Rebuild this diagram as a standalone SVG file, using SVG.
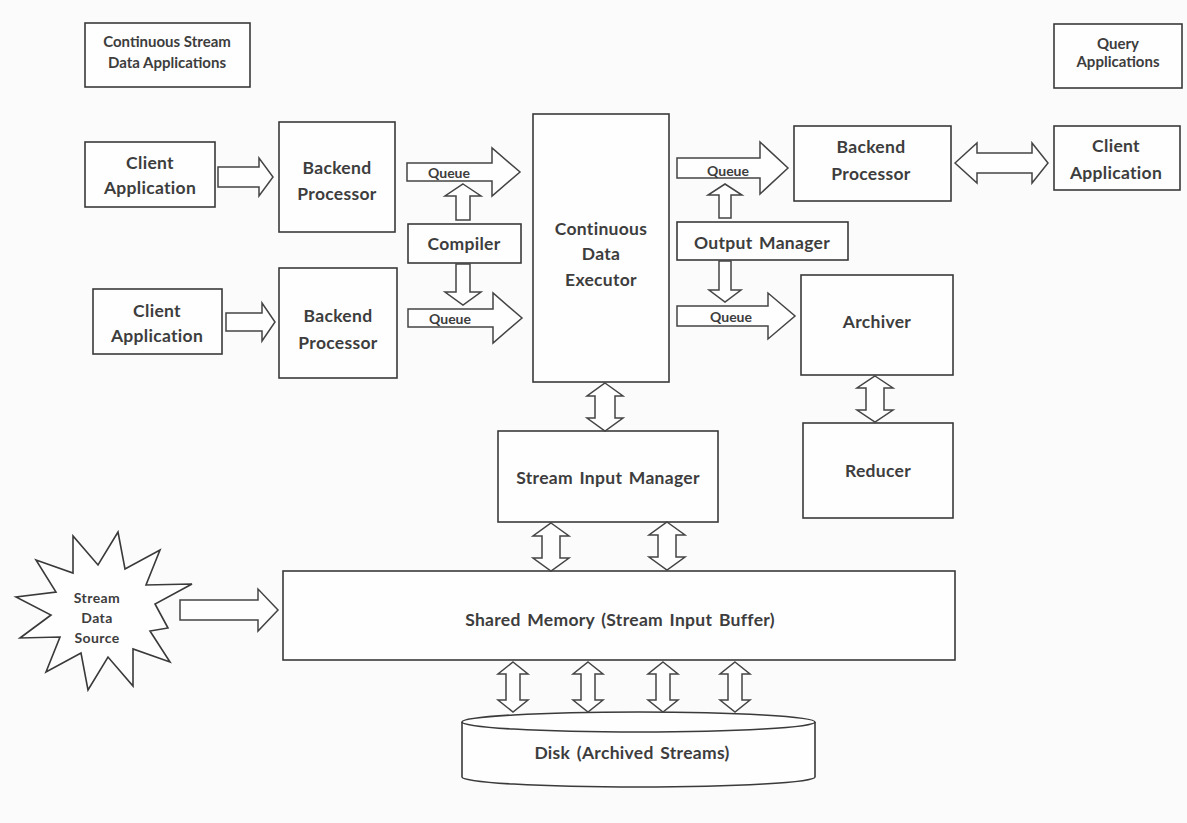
<svg xmlns="http://www.w3.org/2000/svg" width="1187" height="823" viewBox="0 0 1187 823">
  <style>
    .box { fill: #fefefe; stroke: #3a3a3a; stroke-width: 1.6; }
    .arr { fill: #fefefe; stroke: #444; stroke-width: 1.5; stroke-linejoin: miter; }
    text { font-family: Lato, "Liberation Sans", sans-serif; font-weight: 700; fill: #3d3d3d; text-anchor: middle; dominant-baseline: central; }
    .lg { font-size: 17.5px; letter-spacing: 0.3px; word-spacing: 2px; }
    .md { font-size: 15px; }
    .sm { font-size: 14px; letter-spacing: 0.4px; }
    .q { font-size: 14px; }
  </style>
  <rect width="1187" height="823" fill="#fbfbfb"/>

  <!-- headings -->
  <g id="hdr-stream-apps">
    <rect class="box" x="85" y="23" width="165" height="64"/>
    <text class="md" x="167" y="41">Continuous Stream</text>
    <text class="md" x="167" y="62">Data Applications</text>
  </g>
  <g id="hdr-query-apps">
    <rect class="box" x="1054" y="24" width="128" height="64"/>
    <text class="md" x="1118" y="43">Query</text>
    <text class="md" x="1118" y="61">Applications</text>
  </g>

  <!-- left side: clients and backends -->
  <g id="client-a">
    <rect class="box" x="85" y="142" width="130" height="65"/>
    <text class="lg" x="150" y="162">Client</text>
    <text class="lg" x="150" y="187">Application</text>
  </g>
  <g id="backend-a">
    <rect class="box" x="279" y="122" width="116" height="110"/>
    <text class="lg" x="337" y="167">Backend</text>
    <text class="lg" x="337" y="193">Processor</text>
  </g>
  <g id="client-b">
    <rect class="box" x="93" y="289" width="129" height="65"/>
    <text class="lg" x="157" y="310">Client</text>
    <text class="lg" x="157" y="335">Application</text>
  </g>
  <g id="backend-b">
    <rect class="box" x="279" y="268" width="118" height="110"/>
    <text class="lg" x="338" y="315">Backend</text>
    <text class="lg" x="338" y="342">Processor</text>
  </g>
  <g id="compiler">
    <rect class="box" x="408" y="224" width="113" height="39"/>
    <text class="lg" x="464" y="243">Compiler</text>
  </g>

  <!-- core -->
  <g id="executor">
    <rect class="box" x="533" y="114" width="136" height="268"/>
    <text class="lg" x="601" y="228">Continuous</text>
    <text class="lg" x="601" y="253">Data</text>
    <text class="lg" x="601" y="279">Executor</text>
  </g>
  <g id="output-manager">
    <rect class="box" x="677" y="222" width="171" height="38"/>
    <text class="lg" x="762" y="242">Output Manager</text>
  </g>

  <!-- right side -->
  <g id="backend-c">
    <rect class="box" x="794" y="126" width="157" height="75"/>
    <text class="lg" x="871" y="146">Backend</text>
    <text class="lg" x="871" y="173">Processor</text>
  </g>
  <g id="client-c">
    <rect class="box" x="1054" y="126" width="126" height="64"/>
    <text class="lg" x="1116" y="145">Client</text>
    <text class="lg" x="1116" y="172">Application</text>
  </g>
  <g id="archiver">
    <rect class="box" x="801" y="275" width="152" height="100"/>
    <text class="lg" x="877" y="321">Archiver</text>
  </g>
  <g id="reducer">
    <rect class="box" x="803" y="423" width="150" height="95"/>
    <text class="lg" x="878" y="470">Reducer</text>
  </g>

  <!-- input path -->
  <g id="stream-input-manager">
    <rect class="box" x="498" y="431" width="220" height="91"/>
    <text class="lg" x="608" y="477">Stream Input Manager</text>
  </g>
  <g id="shared-memory">
    <rect class="box" x="283" y="571" width="672" height="89"/>
    <text class="lg" x="620" y="619">Shared Memory (Stream Input Buffer)</text>
  </g>
  <g id="disk">
    <path class="box" d="M462,722 L462,777 A176.5,10 0 0 0 815,777 L815,722"/>
    <ellipse class="box" cx="638.5" cy="722" rx="176.5" ry="10"/>
    <text class="lg" x="632" y="752">Disk (Archived Streams)</text>
  </g>
  <g id="stream-source">
    <polygon class="box" points="118,532 125,569 160,550 146,585 192,584 155,604 168,628 150,631 170,662 133,649 133,686 108,657 88,690 81,653 46,672 60,637 20,638 51,615 16,597 56,592 36,560 73,573 73,536 98,565"/>
    <text class="sm" x="97" y="597">Stream</text>
    <text class="sm" x="97" y="617">Data</text>
    <text class="sm" x="97" y="637">Source</text>
  </g>

  <!-- block-arrow connectors -->
  <g id="connectors">
    <!-- clients to backends -->
    <polygon class="arr" points="218,167 259,167 259,158 273,177 259,196 259,187 218,187"/>
    <polygon class="arr" points="226,313 262,313 262,303 275,322 262,341 262,331 226,331"/>
    <!-- input queues into executor -->
    <polygon class="arr" points="407,163 492,163 492,148 520,172 492,196 492,181 407,181"/>
    <polygon class="arr" points="408,309 493,309 493,293 522,318 493,343 493,327 408,327"/>
    <!-- compiler feeds both queues -->
    <polygon class="arr" points="463,184 481,196 470,196 470,220 456,220 456,196 445,196"/>
    <polygon class="arr" points="456,264 470,264 470,292 481,292 463,305 445,292 456,292"/>
    <!-- output queues -->
    <polygon class="arr" points="677,158 760,158 760,142 788,168 760,194 760,178 677,178"/>
    <polygon class="arr" points="677,306 768,306 768,293 795,316 768,339 768,326 677,326"/>
    <!-- output manager feeds both queues -->
    <polygon class="arr" points="725,184 742,195 731,195 731,218 719,218 719,195 708,195"/>
    <polygon class="arr" points="719,261 731,261 731,290 741,290 725,302 709,290 719,290"/>
    <!-- backend to query client -->
    <polygon class="arr" points="955,163 977,143 977,153 1032,153 1032,143 1048,163 1032,183 1032,173 977,173 977,183"/>
    <!-- executor to stream input manager -->
    <polygon class="arr" points="605,383 623,396 615,396 615,418 623,418 605,431 587,418 595,418 595,396 587,396"/>
    <!-- archiver to reducer -->
    <polygon class="arr" points="875,376 893,388 884,388 884,410 893,410 875,422 857,410 866,410 866,388 857,388"/>
    <!-- stream input manager to shared memory -->
    <polygon class="arr" points="551,523 569,536 560,536 560,558 569,558 551,571 533,558 542,558 542,536 533,536"/>
    <polygon class="arr" points="667,522 685,535 676,535 676,557 685,557 667,570 649,557 658,557 658,535 649,535"/>
    <!-- shared memory to disk -->
    <polygon class="arr" points="513,662 528,674 520,674 520,700 528,700 513,712 498,700 506,700 506,674 498,674"/>
    <polygon class="arr" points="588,662 603,674 595,674 595,700 603,700 588,712 573,700 581,700 581,674 573,674"/>
    <polygon class="arr" points="663,662 678,674 670,674 670,700 678,700 663,712 648,700 656,700 656,674 648,674"/>
    <polygon class="arr" points="735,662 750,674 742,674 742,700 750,700 735,712 720,700 728,700 728,674 720,674"/>
    <!-- stream source into shared memory -->
    <polygon class="arr" points="180,600 258,600 258,589 278,610 258,631 258,620 180,620"/>
  </g>

  <!-- queue labels sit on the arrows -->
  <g id="queue-labels">
    <text class="q" x="449" y="172">Queue</text>
    <text class="q" x="450" y="318">Queue</text>
    <text class="q" x="728" y="170">Queue</text>
    <text class="q" x="731" y="316">Queue</text>
  </g>
</svg>
